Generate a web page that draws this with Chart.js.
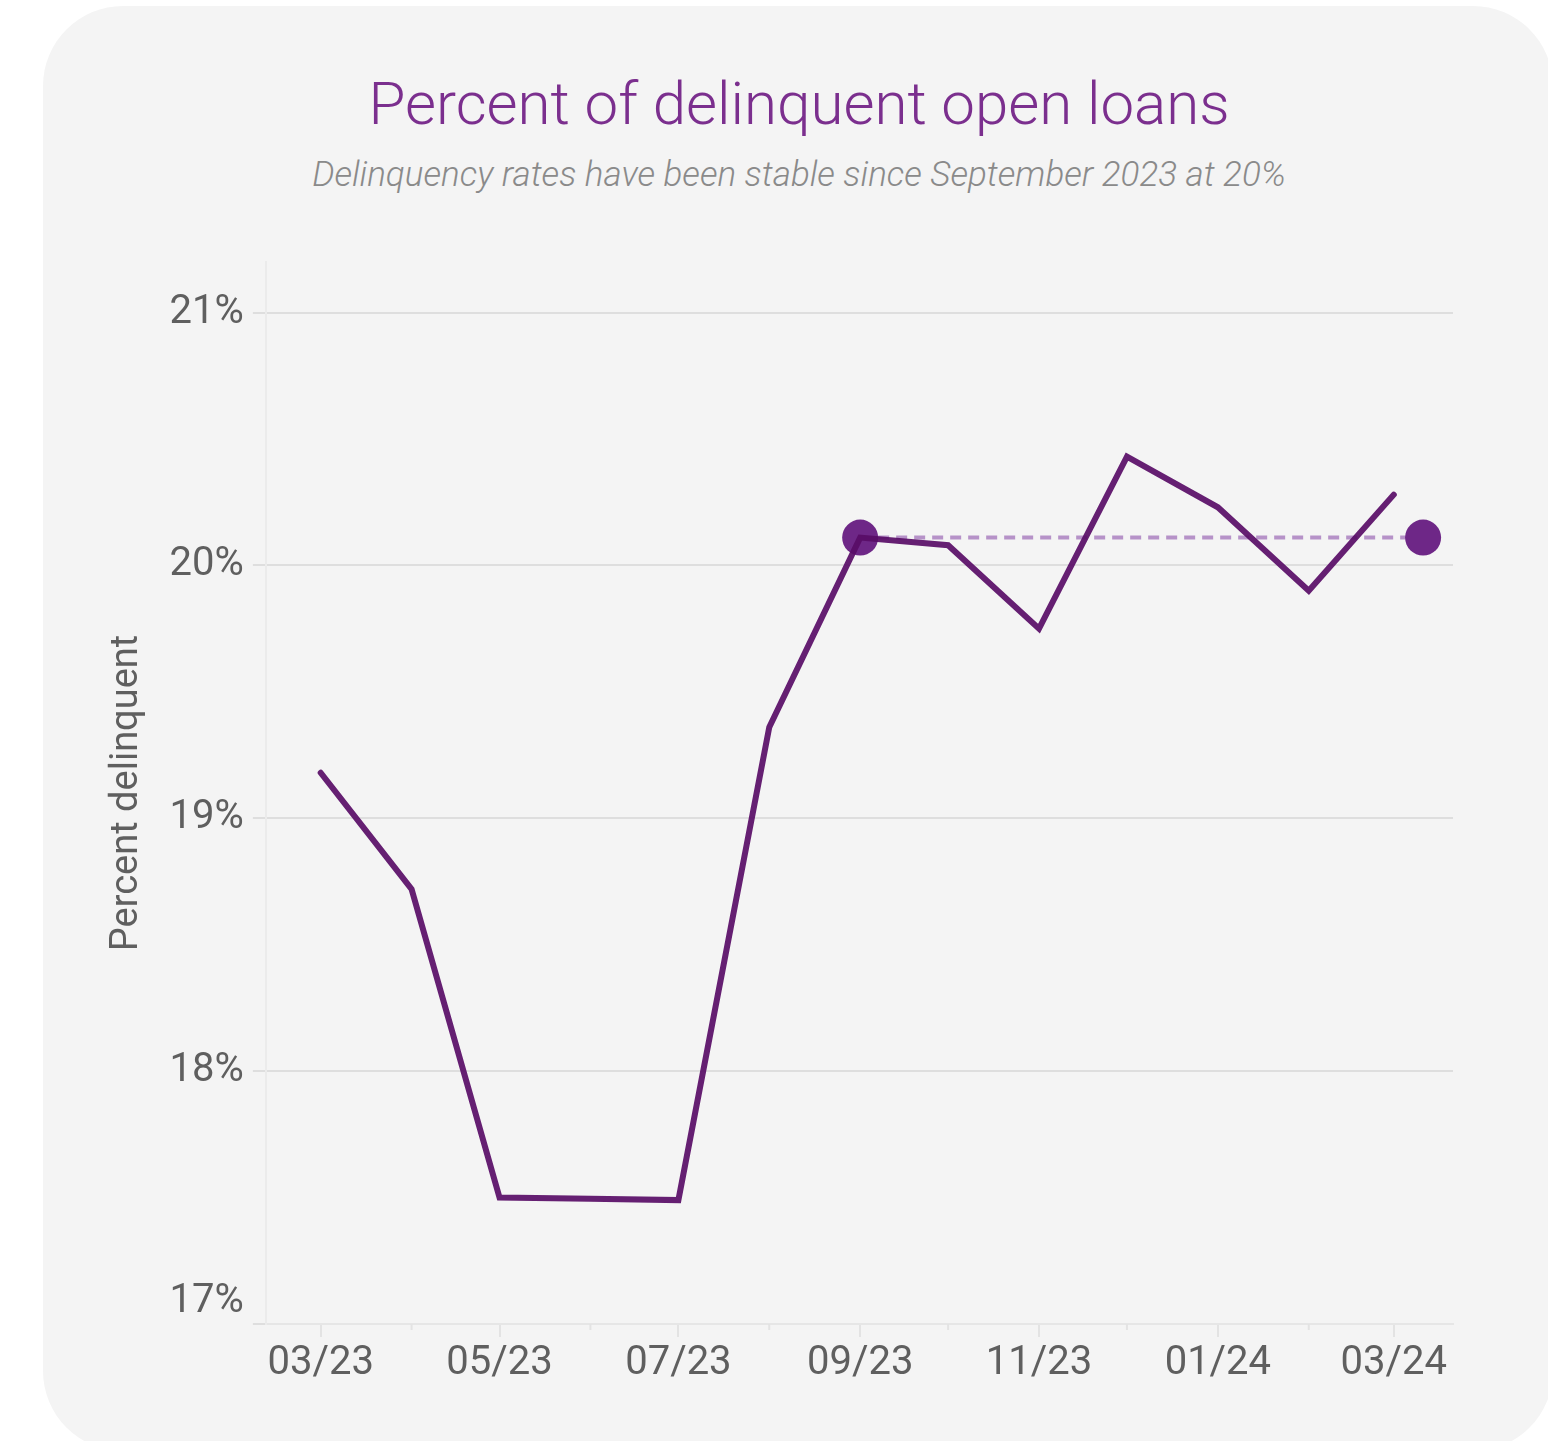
<!DOCTYPE html>
<html>
<head>
<meta charset="utf-8">
<script src="https://cdn.jsdelivr.net/npm/chart.js@4.4.1/dist/chart.umd.min.js"></script>
<style>
  html, body { margin: 0; padding: 0; background: #ffffff; }
  body { width: 1548px; height: 1441px; position: relative; overflow: hidden; font-family: Roboto, "Noto Sans", sans-serif; }
  .card { position: absolute; left: 43px; top: 6px; width: 1510px; height: 1445px; background: #f4f4f4; border-radius: 80px; }
  h1 { position: absolute; left: 0; width: 1598px; top: 66px; margin: 0; text-align: center; font-weight: 300; font-size: 60px; color: #7b2f8e; line-height: 76px; }
  .sub { position: absolute; left: 0; width: 1598px; top: 153px; margin: 0; text-align: center; font-weight: 300; font-style: italic; font-size: 35px; color: #8a8a8a; line-height: 44px; }
  #wrap { position: absolute; left: 0; top: 0; width: 1548px; height: 1441px; }
</style>
</head>
<body>
<div class="card"></div>
<h1>Percent of delinquent open loans</h1>
<p class="sub">Delinquency rates have been stable since September 2023 at 20%</p>
<div id="wrap"><canvas id="chart"></canvas></div>
<script>
// Mois (1er du mois, 03/23 -> 03/24)
const months = ['03/23', '04/23', '05/23', '06/23', '07/23', '08/23', '09/23', '10/23', '11/23', '12/23', '01/24', '02/24', '03/24'];
const monthDates = [
  [2023, 3], [2023, 4], [2023, 5], [2023, 6], [2023, 7], [2023, 8], [2023, 9],
  [2023, 10], [2023, 11], [2023, 12], [2024, 1], [2024, 2], [2024, 3]
];
// Taux de délinquance (%)
const delinquency = [19.18, 18.72, 17.50, 17.495, 17.49, 19.36, 20.11, 20.08, 19.75, 20.43, 20.23, 19.90, 20.28];
// Niveau stable depuis 09/23
const stableLevel = 20.11;
const stableFromIdx = 6;           // 09/23
const stableEnd = [2024, 3, 11];   // point final, un peu après 03/24
const yTicks = [17, 18, 19, 20, 21];

const DAY = 86400000;
const origin = Date.UTC(2023, 2, 1);
const dayOf = (y, m, d) => (Date.UTC(y, m - 1, d || 1) - origin) / DAY;
const monthX = monthDates.map(([y, m]) => dayOf(y, m));
const endX = dayOf(...stableEnd);

const purple = '#6e2787';
const tickGray = '#5f5f5f';

// petites graduations pour les mois sans étiquette + étiquette 17% remontée
const axisExtras = {
  id: 'axisExtras',
  afterDraw(chart) {
    const ctx = chart.ctx;
    const x = chart.scales.x;
    const y = chart.scales.y;
    ctx.save();
    ctx.strokeStyle = '#e3e3e3';
    ctx.lineWidth = 2;
    monthX.forEach((v, i) => {
      if (i % 2 === 1) {
        const px = x.getPixelForValue(v);
        ctx.beginPath();
        ctx.moveTo(px, x.top);
        ctx.lineTo(px, x.top + 6);
        ctx.stroke();
      }
    });
    ctx.fillStyle = tickGray;
    ctx.font = '400 40px Roboto';
    ctx.textAlign = 'right';
    ctx.textBaseline = 'middle';
    ctx.fillText(yTicks[0] + '%', y.right - 22, y.getPixelForValue(yTicks[0]) - 22);
    ctx.restore();
  }
};

new Chart(document.getElementById('chart'), {
  type: 'line',
  data: {
    datasets: [
      {
        label: 'Delinquency',
        data: delinquency.map((v, i) => ({ x: monthX[i], y: v })),
        borderColor: 'rgba(88, 12, 102, 0.92)',
        borderWidth: 6,
        borderCapStyle: 'round',
        borderJoinStyle: 'miter',
        pointRadius: 0,
        tension: 0,
        order: 0
      },
      {
        label: 'Stable',
        data: [{ x: monthX[stableFromIdx], y: stableLevel }, { x: endX, y: stableLevel }],
        borderColor: '#b692c8',
        borderWidth: 4,
        borderDash: [11, 7],
        pointRadius: 0,
        order: 2
      },
      {
        label: 'Points',
        data: [{ x: monthX[stableFromIdx], y: stableLevel }, { x: endX, y: stableLevel }],
        showLine: false,
        pointRadius: 18,
        pointHoverRadius: 18,
        pointBackgroundColor: purple,
        pointBorderWidth: 0,
        order: 1
      }
    ]
  },
  options: {
    responsive: true,
    maintainAspectRatio: false,
    animation: false,
    layout: { padding: { left: 105, right: 95, top: 262, bottom: 50 } },
    plugins: { legend: { display: false }, tooltip: { enabled: false } },
    scales: {
      x: {
        type: 'linear',
        min: -18.7,
        max: 386.2,
        afterBuildTicks: axis => { axis.ticks = monthX.map(v => ({ value: v })); },
        ticks: {
          autoSkip: false,
          maxRotation: 0,
          padding: 3,
          color: tickGray,
          font: { family: 'Roboto', size: 40 },
          callback: (v, i) => (i % 2 === 0 ? months[i] : '')
        },
        grid: {
          drawOnChartArea: false,
          drawTicks: true,
          tickLength: 13,
          lineWidth: 2,
          tickColor: c => (c.index % 2 === 0 ? '#e3e3e3' : 'rgba(0,0,0,0)')
        },
        border: { color: '#e6e6e6', width: 2 }
      },
      y: {
        min: 17,
        max: 21.2,
        afterBuildTicks: axis => { axis.ticks = yTicks.map(v => ({ value: v })); },
        ticks: {
          padding: 9,
          color: c => (c.tick && c.tick.value === yTicks[0] ? 'rgba(0,0,0,0)' : tickGray),
          font: { family: 'Roboto', size: 40 },
          callback: v => v + '%'
        },
        grid: { color: '#dedede', lineWidth: 2, tickLength: 13 },
        border: { color: '#ebebeb', width: 2 },
        title: {
          display: true,
          text: 'Percent delinquent',
          color: tickGray,
          font: { family: 'Roboto', size: 38 },
          padding: { top: 0, bottom: 10 }
        }
      }
    }
  },
  plugins: [axisExtras]
});
</script>
</body>
</html>
